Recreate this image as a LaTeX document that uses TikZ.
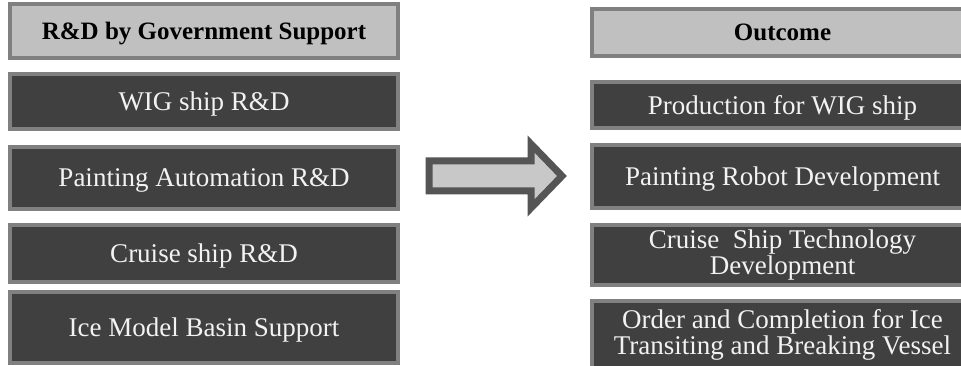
\documentclass[tikz,border=0pt]{standalone}
\usepackage{fontspec}
\setmainfont{Liberation Serif}

\definecolor{boxedge}{HTML}{808080}
\definecolor{boxdark}{HTML}{404040}
\definecolor{boxlight}{HTML}{C0C0C0}
\definecolor{boxtext}{HTML}{F2F2F2}
\definecolor{arrowedge}{HTML}{555555}
\definecolor{arrowfill}{HTML}{C8C8C8}

\begin{document}
\begin{tikzpicture}[x=1pt,y=-1pt,
    headbox/.style={draw=boxedge,fill=boxlight,line width=4pt,inner sep=0pt,
      text=black,text depth=0pt,font=\fontsize{25}{26}\selectfont\bfseries},
    itembox/.style={draw=boxedge,fill=boxdark,line width=4pt,inner sep=0pt,
      text=boxtext,align=center,font=\fontsize{27}{26}\selectfont},
    oneline/.style={text depth=0pt},
    leftcol/.style={minimum width=388pt},
    rightcol/.style={minimum width=381pt}]
  \useasboundingbox (0,0) rectangle (961,366);

  % left column: research and development
  \node[headbox,leftcol,minimum height=54pt] (rdhead) at (204,31) {R\&D by Government Support};
  \node[itembox,oneline,leftcol,minimum height=55pt] (wig) at (204,101.5) {WIG ship R\&D};
  \node[itembox,oneline,leftcol,minimum height=62pt] (paint) at (204,178) {Painting Automation R\&D};
  \node[itembox,oneline,leftcol,minimum height=57pt] (cruise) at (204,253.5) {Cruise ship R\&D};
  \node[itembox,oneline,leftcol,minimum height=71pt] (ice) at (204,327.5) {Ice Model Basin Support};

  % right column: outcomes
  \node[headbox,rightcol,minimum height=47pt] (outhead) at (782.5,32.5) {Outcome};
  \node[itembox,oneline,rightcol,minimum height=46pt] (wigout) at (782.5,105) {Production for WIG ship};
  \node[itembox,oneline,rightcol,minimum height=63pt] (paintout) at (782.5,176.5) {Painting Robot Development};
  \node[itembox,rightcol,minimum height=60pt] (cruiseout) at (782.5,255) {Cruise\ \ Ship Technology\\Development};
  \node[itembox,rightcol,minimum height=67pt] (iceout) at (782.5,334.5) {Order and Completion for Ice\\Transiting and Breaking Vessel};

  % block arrow between the columns
  \draw[draw=arrowedge,fill=arrowfill,line width=7pt,line join=miter]
    (429,161) -- (531,161) -- (531,144) -- (562,176) -- (531,208) -- (531,191) -- (429,191) -- cycle;
\end{tikzpicture}
\end{document}
